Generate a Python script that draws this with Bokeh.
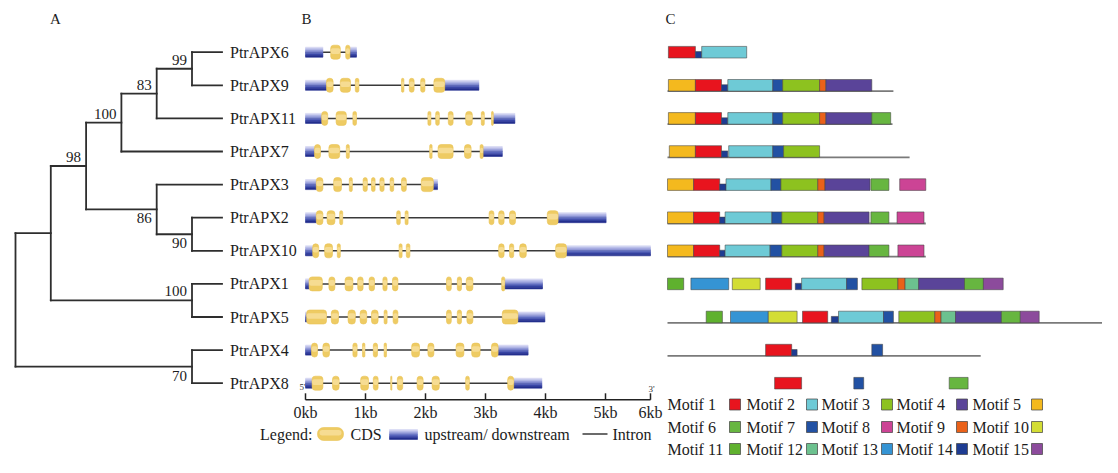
from bokeh.plotting import figure
from bokeh.models import Range1d
from bokeh.embed import file_html
from bokeh.resources import INLINE
from bokeh.core.properties import value

# ======================= DATA =======================
genes = ["PtrAPX6", "PtrAPX9", "PtrAPX11", "PtrAPX7", "PtrAPX3", "PtrAPX2",
         "PtrAPX10", "PtrAPX1", "PtrAPX5", "PtrAPX4", "PtrAPX8"]

# --- A: cladogram (children listed before parents) ---
node_names = ["n69", "n6911", "n7", "n210", "n3210", "nbig", "n15", "nA", "n48", "root"]
node_children = [["PtrAPX6", "PtrAPX9"], ["n69", "PtrAPX11"], ["n6911", "PtrAPX7"],
                 ["PtrAPX2", "PtrAPX10"], ["PtrAPX3", "n210"], ["n7", "n3210"],
                 ["PtrAPX1", "PtrAPX5"], ["nbig", "n15"], ["PtrAPX4", "PtrAPX8"], ["nA", "n48"]]
node_level = [5, 4, 3, 5, 4, 2, 5, 1, 5, 0]
node_support = [99, 83, 100, 90, 86, 98, 100, None, 70, None]
leaf_level = 5.85

# --- B: gene structures (kb) ---
gene_len_kb = [0.85, 2.89, 3.49, 3.28, 2.20, 5.01, 5.75, 3.95, 3.99, 3.71, 3.94]
utr5_end_kb = [0.29, 0.35, 0.27, 0.15, 0.18, 0.18, 0.12, 0.06, 0.02, 0.10, 0.11]
utr3_start_kb = [0.74, 2.32, 3.13, 2.96, 2.13, 4.21, 4.35, 3.32, 3.54, 3.21, 3.47]
cds_start_kb = [
    [0.42, 0.67],
    [0.35, 0.58, 0.83, 1.60, 1.73, 1.92, 2.14],
    [0.27, 0.51, 0.79, 2.04, 2.17, 2.38, 2.67, 2.93, 3.10],
    [0.15, 0.39, 0.68, 2.07, 2.21, 2.65, 2.91],
    [0.18, 0.47, 0.73, 0.96, 1.10, 1.24, 1.41, 1.60, 1.93],
    [0.18, 0.36, 0.57, 1.52, 1.66, 3.06, 3.22, 3.40, 4.03],
    [0.12, 0.32, 0.53, 1.56, 1.68, 3.22, 3.40, 3.57, 4.17],
    [0.06, 0.39, 0.66, 0.87, 1.06, 1.29, 1.45, 2.35, 2.53, 2.68, 3.27],
    [0.02, 0.43, 0.71, 0.91, 1.10, 1.31, 1.46, 2.35, 2.53, 2.69, 3.28],
    [0.10, 0.29, 0.79, 0.95, 1.13, 1.31, 1.77, 2.04, 2.51, 2.77, 3.10],
    [0.11, 0.45, 0.92, 1.13, 1.42, 1.53, 1.86, 2.11, 2.67, 3.37],
]
cds_end_kb = [
    [0.58, 0.74],
    [0.46, 0.75, 0.89, 1.64, 1.81, 1.99, 2.32],
    [0.37, 0.68, 0.85, 2.09, 2.23, 2.46, 2.78, 2.98, 3.13],
    [0.25, 0.57, 0.73, 2.11, 2.46, 2.76, 2.96],
    [0.29, 0.60, 0.78, 1.03, 1.16, 1.31, 1.47, 1.68, 2.13],
    [0.29, 0.49, 0.62, 1.58, 1.71, 3.14, 3.31, 3.50, 4.21],
    [0.22, 0.45, 0.58, 1.61, 1.74, 3.31, 3.47, 3.68, 4.35],
    [0.28, 0.49, 0.79, 0.96, 1.15, 1.36, 1.54, 2.43, 2.60, 2.79, 3.32],
    [0.35, 0.55, 0.83, 1.02, 1.21, 1.36, 1.54, 2.43, 2.60, 2.79, 3.54],
    [0.20, 0.40, 0.86, 0.99, 1.20, 1.35, 1.90, 2.14, 2.64, 2.91, 3.21],
    [0.29, 0.56, 1.05, 1.21, 1.44, 1.62, 1.96, 2.23, 2.73, 3.47],
]
kb_tick_pos = [0, 1, 2, 3, 4, 5, 5.75]
kb_tick_labels = ["0kb", "1kb", "2kb", "3kb", "4kb", "5kb", "6kb"]
structure_legend = ["CDS", "upstream/ downstream", "Intron"]

# --- C: conserved motifs (aa) ---
motif_labels = ["Motif %d" % i for i in range(1, 16)]
motif_colors = ["#e8141e", "#6ecad6", "#8dc21f", "#5a4499", "#f4b91e",
                "#67b640", "#2251a3", "#cc4495", "#ea6119", "#d3dd34",
                "#5fb12e", "#6cc18f", "#3594d4", "#1e3c92", "#8c4b9c"]
protein_line_aa = [None, 251, 250, 269, None, 287, 287, None, 487, 348, None]
motif_ids = [
    [1, 14, 2],
    [5, 1, 14, 2, 7, 3, 9, 4],
    [5, 1, 14, 2, 7, 3, 9, 4, 6],
    [5, 1, 14, 2, 7, 3],
    [5, 1, 14, 2, 7, 3, 9, 4, 6, 8],
    [5, 1, 14, 2, 7, 3, 9, 4, 6, 8],
    [5, 1, 14, 2, 7, 3, 9, 4, 6, 8],
    [11, 13, 10, 1, 14, 2, 7, 3, 9, 12, 4, 6, 15],
    [11, 13, 10, 1, 14, 2, 7, 3, 9, 12, 4, 6, 15],
    [1, 14, 7],
    [1, 7, 6],
]
motif_start_aa = [
    [1, 31, 38],
    [1, 31, 60, 67, 117, 128, 169, 176],
    [1, 31, 60, 67, 117, 128, 169, 176, 227],
    [2, 31, 60, 68, 117, 129],
    [0, 29, 58, 65, 115, 126, 167, 175, 226, 258],
    [0, 29, 58, 64, 116, 127, 167, 174, 226, 255],
    [0, 29, 58, 64, 114, 127, 167, 174, 224, 256],
    [0, 26, 72, 109, 142, 149, 199, 216, 256, 264, 279, 330, 351],
    [43, 70, 112, 150, 182, 190, 240, 257, 297, 304, 320, 371, 392],
    [109, 138, 227],
    [119, 207, 313],
]
motif_end_aa = [
    [31, 38, 88],
    [31, 60, 67, 117, 128, 169, 176, 227],
    [31, 60, 67, 117, 128, 169, 176, 227, 248],
    [31, 60, 67, 117, 129, 169],
    [29, 58, 65, 115, 126, 167, 175, 225, 246, 287],
    [29, 58, 64, 116, 127, 167, 174, 224, 246, 285],
    [29, 58, 64, 114, 127, 167, 174, 224, 246, 285],
    [18, 68, 103, 138, 149, 199, 211, 256, 264, 279, 330, 351, 373],
    [61, 112, 144, 178, 190, 240, 251, 297, 304, 320, 371, 392, 413],
    [138, 144, 239],
    [149, 218, 334],
]
# relative block height (significance): the small Motif 14 blocks are lower
motif_score = [[0.55 if m == 14 else 1 for m in ids] for ids in motif_ids]

# ======================= LAYOUT =======================
W, H = 1102, 457
PX0, PY0 = 0, 0          # data "px" coordinates == picture pixels
ROW_Y0, ROW_PX = 51.7, 33.1
TREE_X0, LVL_PX = 15.0, 35.3
KB_X0, KB_PX = 305.0, 60.0
AA_X0, AA_PX = 667.0, 0.9
FONT = value("Liberation Serif")
TXT = "#1c1c1c"


def rng(x0, scale, a, b):
    return Range1d((a - x0) / scale, (b - x0) / scale)


p = figure(width=W, height=H, x_range=Range1d(PX0, PX0 + W), y_range=Range1d(PY0 + H, PY0),
           output_backend="svg", toolbar_location=None, min_border=0,
           x_axis_location=None, y_axis_location=None)
p.grid.visible = False
p.outline_line_color = None
p.extra_x_ranges = {"lvl": rng(TREE_X0, LVL_PX, PX0, PX0 + W),
                    "kb": rng(KB_X0, KB_PX, PX0, PX0 + W),
                    "aa": rng(AA_X0, AA_PX, PX0, PX0 + W)}
p.extra_y_ranges = {"row": Range1d((PY0 + H - ROW_Y0) / ROW_PX, (PY0 - ROW_Y0) / ROW_PX)}

rows = list(range(len(genes)))

# ---------------- Panel letters ----------------
p.text(x=[55, 306, 670], y=[18, 18, 18], text=["A", "B", "C"], text_font=FONT,
       text_font_size="15px", text_align="center", text_baseline="middle", text_color=TXT)

# ---------------- A: tree ----------------
pos = {g: (leaf_level, float(i)) for i, g in enumerate(genes)}
for name, kids, lvl in zip(node_names, node_children, node_level):
    pos[name] = (lvl, sum(pos[k][1] for k in kids) / len(kids))
sx0, sy0, sx1, sy1 = [], [], [], []
for name, kids in zip(node_names, node_children):
    lx, ly = pos[name]
    ys = [pos[k][1] for k in kids]
    sx0.append(lx); sx1.append(lx); sy0.append(min(ys)); sy1.append(max(ys))
    for k in kids:
        kx, ky = pos[k]
        sx0.append(lx); sy0.append(ky); sx1.append(kx); sy1.append(ky)
p.segment(sx0, sy0, sx1, sy1, x_range_name="lvl", y_range_name="row",
          line_color="#2e2e2e", line_width=1.8, line_cap="square")

p.text(x=[leaf_level] * len(genes), y=rows, text=genes, x_range_name="lvl", y_range_name="row",
       x_offset=8, text_font=FONT, text_font_size="16px", text_baseline="middle",
       text_color=TXT)

support_above = [True, True, True, False, False, True, True, None, False, None]
for above in (True, False):
    xs, ys, ts = [], [], []
    for name, s, a in zip(node_names, node_support, support_above):
        if s is None or a != above:
            continue
        xs.append(pos[name][0]); ys.append(pos[name][1]); ts.append(str(s))
    p.text(x=xs, y=ys, text=ts, x_range_name="lvl", y_range_name="row",
           x_offset=-5, y_offset=(-9 if above else 4), text_align="right",
           text_baseline=("alphabetic" if above else "top"), text_font=FONT,
           text_font_size="15px", text_color=TXT)

# ---------------- B: gene structures ----------------
UTR_H = 5.0 / ROW_PX
CDS_H = 7.0 / ROW_PX
blues = ["#d3d5f2", "#b0b5e5", "#8890d3", "#5f6bc0", "#3b48a8", "#242f8e"]


def draw_utr(lefts, rights, centers, xr, yr, half):
    n = len(blues)
    for j, c in enumerate(blues):
        top = [cy - half + j * 2 * half / n for cy in centers]
        bot = [t + 2 * half / n for t in top]
        p.quad(left=lefts, right=rights, top=top, bottom=bot, x_range_name=xr,
               y_range_name=yr, fill_color=c, line_color=c, line_width=0.6)


p.segment(x0=[0] * len(genes), y0=rows, x1=gene_len_kb, y1=rows, x_range_name="kb",
          y_range_name="row", line_color="#3a3a3a", line_width=1.5)

ul, ur, uc = [], [], []
for i in rows:
    ul += [0, utr3_start_kb[i]]
    ur += [utr5_end_kb[i], gene_len_kb[i]]
    uc += [i, i]
draw_utr(ul, ur, uc, "kb", "row", UTR_H)

cl, cr, cc = [], [], []
for i in rows:
    cl += cds_start_kb[i]
    cr += cds_end_kb[i]
    cc += [i] * len(cds_start_kb[i])
p.quad(left=cl, right=cr, top=[c - CDS_H for c in cc], bottom=[c + CDS_H for c in cc],
       x_range_name="kb", y_range_name="row", fill_color="#eecb63", line_color="#e9c255",
       line_width=0.6, border_radius=3)
p.quad(left=cl, right=cr, top=[c - CDS_H * 0.55 for c in cc], bottom=[c + CDS_H * 0.25 for c in cc],
       x_range_name="kb", y_range_name="row", fill_color="#f6dc92", line_color=None,
       border_radius=2)

# scale bar
AXIS_Y = 399.3
p.segment(x0=[kb_tick_pos[0]], y0=[AXIS_Y], x1=[kb_tick_pos[-1]], y1=[AXIS_Y],
          x_range_name="kb", line_color="#222222", line_width=1.5)
p.segment(x0=kb_tick_pos, y0=[AXIS_Y] * len(kb_tick_pos), x1=kb_tick_pos,
          y1=[AXIS_Y - 6.5] * len(kb_tick_pos), x_range_name="kb",
          line_color="#222222", line_width=1.5)
p.text(x=kb_tick_pos, y=[412] * len(kb_tick_pos), text=kb_tick_labels, x_range_name="kb",
       text_align="center", text_baseline="middle", text_font=FONT, text_font_size="16px",
       text_color=TXT)
p.text(x=[kb_tick_pos[0], kb_tick_pos[-1]], y=[386, 388], text=["5'", "3'"], x_range_name="kb",
       x_offset=[-3, 1], text_align="center", text_baseline="middle", text_font=FONT,
       text_font_size="9px", text_color="#333333")

# structure legend
LEG_Y = 433.5
p.text(x=[312], y=[LEG_Y], text=["Legend:"], text_align="right", text_baseline="middle",
       text_font=FONT, text_font_size="16px", text_color=TXT)
p.quad(left=[317], right=[343], top=[427], bottom=[440], fill_color="#eecb63",
       line_color="#e9c255", line_width=0.6, border_radius=6)
p.quad(left=[319], right=[341], top=[429.5], bottom=[435], fill_color="#f6dc92",
       line_color=None, border_radius=3)
draw_utr([389], [417], [434], "default", "default", 5.0)
p.segment(x0=[582], y0=[LEG_Y], x1=[607], y1=[LEG_Y], line_color="#3a3a3a", line_width=1.5)
p.text(x=[350, 424, 612], y=[LEG_Y] * 3, text=structure_legend, text_baseline="middle",
       text_font=FONT, text_font_size="16px", text_color=TXT)

# ---------------- C: motifs ----------------
MOT_H = 5.8 / ROW_PX
lx0, lx1, ly = [], [], []
for i in rows:
    if protein_line_aa[i] is not None:
        lx0.append(0); lx1.append(protein_line_aa[i]); ly.append(i + MOT_H)
p.segment(x0=lx0, y0=ly, x1=lx1, y1=ly, x_range_name="aa", y_range_name="row",
          line_color="#7a7a7a", line_width=1.8)

ml, mr, mt, mb, mc = [], [], [], [], []
for i in rows:
    for m, s, e, sc in zip(motif_ids[i], motif_start_aa[i], motif_end_aa[i], motif_score[i]):
        ml.append(s); mr.append(e)
        mb.append(i + MOT_H); mt.append(i + MOT_H - 2 * MOT_H * sc)
        mc.append(motif_colors[m - 1])
p.quad(left=ml, right=mr, top=mt, bottom=mb, x_range_name="aa", y_range_name="row",
       fill_color=mc, line_color="#444444", line_alpha=0.7, line_width=0.8)

# motif legend (5 columns x 3 rows)
col_text_x = [667, 746, 821, 896, 972]
col_swatch_x = [729, 806, 881, 956, 1031]
row_y = [404, 426.5, 448.5]
tx, ty, sxl, syc = [], [], [], []
for k, lab in enumerate(motif_labels):
    r, c = divmod(k, 5)
    tx.append(col_text_x[c]); ty.append(row_y[r])
    sxl.append(col_swatch_x[c]); syc.append(row_y[r])
p.text(x=tx, y=ty, text=motif_labels, text_baseline="middle", text_font=FONT,
       text_font_size="16px", text_color=TXT)
p.quad(left=sxl, right=[x + 11 for x in sxl], top=[y - 5.5 for y in syc],
       bottom=[y + 5.5 for y in syc], fill_color=motif_colors, line_color="#444444",
       line_alpha=0.8, line_width=0.9)

open("out.html", "w").write(file_html(p, INLINE))
